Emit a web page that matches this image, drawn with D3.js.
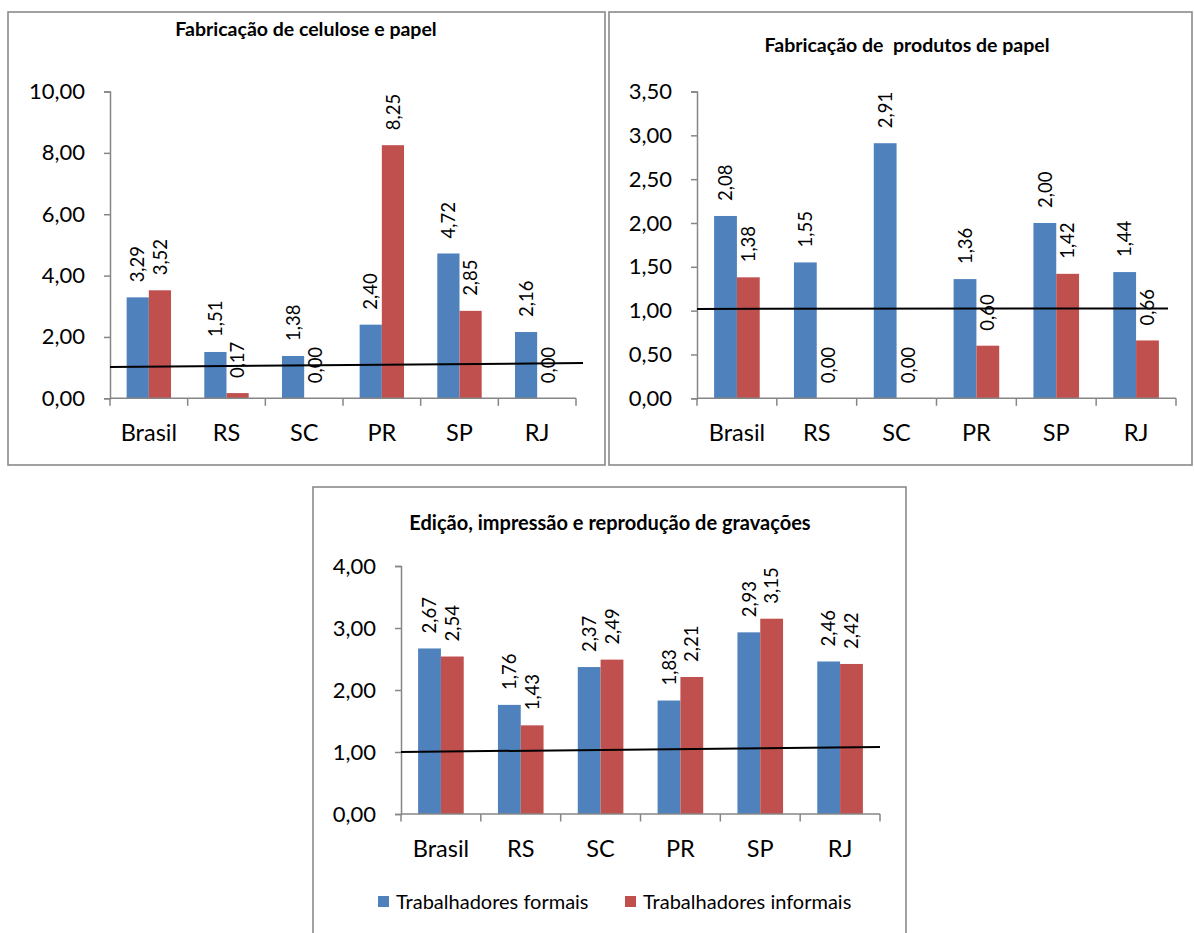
<!DOCTYPE html>
<html>
<head>
<meta charset="utf-8">
<script src="https://cdn.jsdelivr.net/npm/d3@7"></script>
<style>
  html, body { margin: 0; padding: 0; background: #ffffff; }
  svg { display: block; }
  text { font-family: Lato, "Open Sans", sans-serif; fill: #000; }
</style>
</head>
<body>
<svg id="chart" width="1194" height="933"></svg>
<script>
// Estados / regiões comparados
const categories = ["Brasil", "RS", "SC", "PR", "SP", "RJ"];
const seriesNames = ["Trabalhadores formais", "Trabalhadores informais"];
const seriesColors = ["#4F81BD", "#C0504D"];

// Fabricação de celulose e papel
const celuloseFormais   = [3.29, 1.51, 1.38, 2.40, 4.72, 2.16];
const celuloseInformais = [3.52, 0.17, 0.00, 8.25, 2.85, 0.00];
const celuloseTicks     = [0, 2, 4, 6, 8, 10];
const celuloseRefLine   = [1.02, 1.15];

// Fabricação de produtos de papel
const produtosFormais   = [2.08, 1.55, 2.91, 1.36, 2.00, 1.44];
const produtosInformais = [1.38, 0.00, 0.00, 0.60, 1.42, 0.66];
const produtosTicks     = [0, 0.5, 1, 1.5, 2, 2.5, 3, 3.5];
const produtosRefLine   = [1.02, 1.025];

// Edição, impressão e reprodução de gravações
const edicaoFormais   = [2.67, 1.76, 2.37, 1.83, 2.93, 2.46];
const edicaoInformais = [2.54, 1.43, 2.49, 2.21, 3.15, 2.42];
const edicaoTicks     = [0, 1, 2, 3, 4];
const edicaoRefLine   = [1.00, 1.08];

const fmt = v => d3.format(".2f")(v).replace(".", ",");

const svg = d3.select("#chart");

const panels = [
  {
    title: "Fabricação de celulose e papel",
    formais: celuloseFormais, informais: celuloseInformais,
    ticks: celuloseTicks, ref: celuloseRefLine,
    box: { x: 8, y: 12, w: 597, h: 453 },
    plot: { x0: 110, x1: 576, top: 91.5, base: 398.3 },
    titlePos: { x: 306, y: 36 },
    titleSize: 19.5,
    refEnd: 583
  },
  {
    title: "Fabricação de  produtos de papel",
    formais: produtosFormais, informais: produtosInformais,
    ticks: produtosTicks, ref: produtosRefLine,
    box: { x: 609, y: 12, w: 583, h: 453 },
    plot: { x0: 697, x1: 1176, top: 91.5, base: 398.3 },
    titlePos: { x: 907, y: 52 },
    titleSize: 19.5,
    refEnd: 1168
  },
  {
    title: "Edição, impressão e reprodução de gravações",
    formais: edicaoFormais, informais: edicaoInformais,
    ticks: edicaoTicks, ref: edicaoRefLine,
    box: { x: 313, y: 487, w: 593, h: 470 },
    plot: { x0: 401, x1: 880, top: 566, base: 814 },
    titlePos: { x: 610, y: 530 },
    titleSize: 20,
    refEnd: 880,
    legend: { y: 896, items: [378, 625] }
  }
];

const axisColor = "#868686";

panels.forEach(p => {
  const g = svg.append("g");

  // panel frame
  g.append("rect")
    .attr("x", p.box.x).attr("y", p.box.y)
    .attr("width", p.box.w).attr("height", p.box.h)
    .attr("fill", "#fff")
    .attr("stroke", "#8a8a8a").attr("stroke-width", 1.6);

  // title
  g.append("text")
    .attr("x", p.titlePos.x).attr("y", p.titlePos.y)
    .attr("text-anchor", "middle")
    .style("white-space", "pre")
    .attr("font-weight", "bold")
    .attr("font-size", p.titleSize + "px")
    .text(p.title);

  const x = d3.scaleBand().domain(categories)
    .range([p.plot.x0, p.plot.x1]).paddingInner(0).paddingOuter(0);
  const xs = d3.scaleBand().domain(seriesNames)
    .range([0, x.bandwidth()]).paddingInner(0).paddingOuter(0.75);
  const y = d3.scaleLinear()
    .domain([d3.min(p.ticks), d3.max(p.ticks)])
    .range([p.plot.base, p.plot.top]);

  // y axis
  const yAxis = d3.axisLeft(y).tickValues(p.ticks).tickFormat(fmt)
    .tickSize(6).tickPadding(19);
  const yg = g.append("g").attr("transform", `translate(${p.plot.x0},0)`).call(yAxis);
  yg.select(".domain").attr("stroke", axisColor).attr("stroke-width", 1.5);
  yg.selectAll(".tick line").attr("stroke", axisColor).attr("stroke-width", 1.5);
  yg.selectAll(".tick text")
    .attr("font-size", "22px").attr("font-family", "Lato, 'Open Sans', sans-serif")
    .attr("fill", "#000");

  // bars
  const rows = categories.map((c, i) => ({
    cat: c,
    vals: [p.formais[i], p.informais[i]]
  }));
  const grp = g.append("g").selectAll("g").data(rows).join("g")
    .attr("transform", d => `translate(${x(d.cat)},0)`);

  grp.selectAll("rect")
    .data(d => d.vals.map((v, k) => ({ v, k })))
    .join("rect")
    .attr("x", d => xs(seriesNames[d.k]))
    .attr("width", xs.bandwidth())
    .attr("y", d => y(d.v))
    .attr("height", d => y(0) - y(d.v))
    .attr("fill", d => seriesColors[d.k]);

  // x axis with ticks between categories
  const bounds = categories.map(c => x(c)).concat([p.plot.x1]);
  const xg = g.append("g");
  xg.append("line")
    .attr("x1", p.plot.x0).attr("x2", p.plot.x1)
    .attr("y1", y(0)).attr("y2", y(0))
    .attr("stroke", axisColor).attr("stroke-width", 1.5);
  xg.selectAll("line.tk").data(bounds).join("line").attr("class", "tk")
    .attr("x1", d => d).attr("x2", d => d)
    .attr("y1", y(0)).attr("y2", y(0) + 7.5)
    .attr("stroke", axisColor).attr("stroke-width", 1.5);
  xg.selectAll("text").data(categories).join("text")
    .attr("x", d => x(d) + x.bandwidth() / 2)
    .attr("y", y(0) + 43)
    .attr("text-anchor", "middle")
    .attr("font-size", "23.5px")
    .text(d => d);

  // data labels, rotated
  grp.selectAll("text.lbl")
    .data(d => d.vals.map((v, k) => ({ v, k })))
    .join("text").attr("class", "lbl")
    .attr("transform", d => {
      const cx = xs(seriesNames[d.k]) + xs.bandwidth() / 2;
      return `translate(${cx},${y(d.v) - 15}) rotate(-90)`;
    })
    .attr("dy", "0.36em")
    .attr("text-anchor", "start")
    .attr("font-size", "18.5px")
    .text(d => fmt(d.v));

  // reference line
  const xr = d3.scaleLinear().domain([0, 1]).range([p.plot.x0, p.refEnd]);
  g.append("path")
    .datum(p.ref)
    .attr("d", d3.line().x((d, i) => xr(i)).y(d => y(d)))
    .attr("fill", "none")
    .attr("stroke", "#000").attr("stroke-width", 2);

  // legend
  if (p.legend) {
    const lg = g.append("g").selectAll("g").data(seriesNames).join("g")
      .attr("transform", (d, i) => `translate(${p.legend.items[i]},${p.legend.y})`);
    lg.append("rect").attr("width", 11).attr("height", 11)
      .attr("fill", (d, i) => seriesColors[i]);
    lg.append("text").attr("x", 18).attr("y", 12.5)
      .attr("font-size", "20px").text(d => d);
  }
});
</script>
</body>
</html>
